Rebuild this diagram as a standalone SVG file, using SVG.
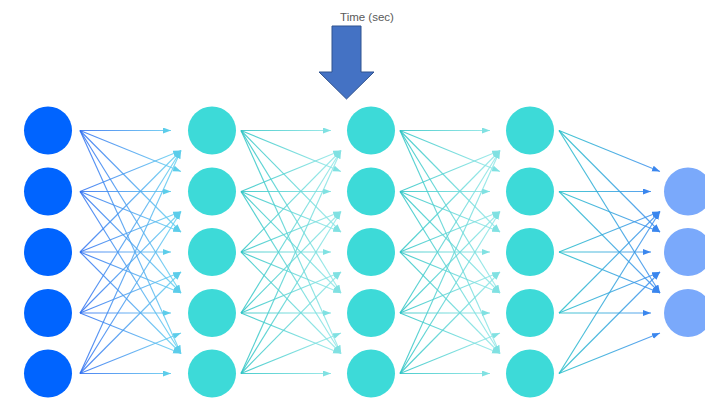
<svg xmlns="http://www.w3.org/2000/svg" width="705" height="404" viewBox="0 0 705 404">
<defs>
<style>
.c1{fill:#0064ff}
.c2{fill:#3ddad8}
.c3{fill:#7aa9fb}
.ln{stroke-width:1.15;fill:none;stroke-opacity:0.85}
.g1 line{stroke:url(#gr1);marker-end:url(#m1)}
.g2 line{stroke:url(#gr2);marker-end:url(#m2)}
.g3 line{stroke:url(#gr3);marker-end:url(#m2)}
.g4 line{stroke:url(#gr4);marker-end:url(#m4)}
.lbl{font-family:"Liberation Sans",Arial,sans-serif;font-size:11.5px;fill:#5a5a5a}
</style>
<linearGradient id="gr1" gradientUnits="userSpaceOnUse" x1="80" y1="0" x2="181" y2="0"><stop offset="0" stop-color="#2f6ff0"/><stop offset="1" stop-color="#6ad6f0"/></linearGradient>
<linearGradient id="gr2" gradientUnits="userSpaceOnUse" x1="241" y1="0" x2="341" y2="0"><stop offset="0" stop-color="#2cc4c4"/><stop offset="1" stop-color="#98e9e9"/></linearGradient>
<linearGradient id="gr3" gradientUnits="userSpaceOnUse" x1="400" y1="0" x2="500" y2="0"><stop offset="0" stop-color="#2cc4c4"/><stop offset="1" stop-color="#98e9e9"/></linearGradient>
<linearGradient id="gr4" gradientUnits="userSpaceOnUse" x1="559" y1="0" x2="660" y2="0"><stop offset="0" stop-color="#25bfc9"/><stop offset="1" stop-color="#3f8cf0"/></linearGradient>
<marker id="m1" markerUnits="userSpaceOnUse" markerWidth="9" markerHeight="7" refX="8" refY="3" orient="auto"><path d="M0,0 L8,3 L0,6 z" fill="#5ccdea"/></marker>
<marker id="m2" markerUnits="userSpaceOnUse" markerWidth="9" markerHeight="7" refX="8" refY="3" orient="auto"><path d="M0,0 L8,3 L0,6 z" fill="#80e1e2"/></marker>
<marker id="m4" markerUnits="userSpaceOnUse" markerWidth="9" markerHeight="7" refX="8" refY="3" orient="auto"><path d="M0,0 L8,3 L0,6 z" fill="#3a86ee"/></marker>
</defs>
<rect width="705" height="404" fill="#ffffff"/>
<g id="connectors">
<g class="ln g1">
<line x1="80" y1="130.5" x2="171" y2="130.5"/><line x1="80" y1="130.5" x2="181" y2="171.5"/><line x1="80" y1="130.5" x2="181" y2="232"/><line x1="80" y1="130.5" x2="181" y2="293"/><line x1="80" y1="130.5" x2="181" y2="353.5"/>
<line x1="80" y1="191.5" x2="181" y2="150.5"/><line x1="80" y1="191.5" x2="171" y2="191.5"/><line x1="80" y1="191.5" x2="181" y2="232"/><line x1="80" y1="191.5" x2="181" y2="293"/><line x1="80" y1="191.5" x2="181" y2="353.5"/>
<line x1="80" y1="252" x2="181" y2="150.5"/><line x1="80" y1="252" x2="181" y2="211.5"/><line x1="80" y1="252" x2="171" y2="252"/><line x1="80" y1="252" x2="181" y2="293"/><line x1="80" y1="252" x2="181" y2="353.5"/>
<line x1="80" y1="313" x2="181" y2="150.5"/><line x1="80" y1="313" x2="181" y2="211.5"/><line x1="80" y1="313" x2="181" y2="272"/><line x1="80" y1="313" x2="171" y2="313"/><line x1="80" y1="313" x2="181" y2="353.5"/>
<line x1="80" y1="373.5" x2="181" y2="150.5"/><line x1="80" y1="373.5" x2="181" y2="211.5"/><line x1="80" y1="373.5" x2="181" y2="272"/><line x1="80" y1="373.5" x2="181" y2="333"/><line x1="80" y1="373.5" x2="171" y2="373.5"/>
</g>
<g class="ln g2">
<line x1="241" y1="130.5" x2="331" y2="130.5"/><line x1="241" y1="130.5" x2="341" y2="171.5"/><line x1="241" y1="130.5" x2="341" y2="232"/><line x1="241" y1="130.5" x2="341" y2="293"/><line x1="241" y1="130.5" x2="341" y2="353.5"/>
<line x1="241" y1="191.5" x2="341" y2="150.5"/><line x1="241" y1="191.5" x2="331" y2="191.5"/><line x1="241" y1="191.5" x2="341" y2="232"/><line x1="241" y1="191.5" x2="341" y2="293"/><line x1="241" y1="191.5" x2="341" y2="353.5"/>
<line x1="241" y1="252" x2="341" y2="150.5"/><line x1="241" y1="252" x2="341" y2="211.5"/><line x1="241" y1="252" x2="331" y2="252"/><line x1="241" y1="252" x2="341" y2="293"/><line x1="241" y1="252" x2="341" y2="353.5"/>
<line x1="241" y1="313" x2="341" y2="150.5"/><line x1="241" y1="313" x2="341" y2="211.5"/><line x1="241" y1="313" x2="341" y2="272"/><line x1="241" y1="313" x2="331" y2="313"/><line x1="241" y1="313" x2="341" y2="353.5"/>
<line x1="241" y1="373.5" x2="341" y2="150.5"/><line x1="241" y1="373.5" x2="341" y2="211.5"/><line x1="241" y1="373.5" x2="341" y2="272"/><line x1="241" y1="373.5" x2="341" y2="333"/><line x1="241" y1="373.5" x2="331" y2="373.5"/>
</g>
<g class="ln g3">
<line x1="400" y1="130.5" x2="490" y2="130.5"/><line x1="400" y1="130.5" x2="500" y2="171.5"/><line x1="400" y1="130.5" x2="500" y2="232"/><line x1="400" y1="130.5" x2="500" y2="293"/><line x1="400" y1="130.5" x2="500" y2="353.5"/>
<line x1="400" y1="191.5" x2="500" y2="150.5"/><line x1="400" y1="191.5" x2="490" y2="191.5"/><line x1="400" y1="191.5" x2="500" y2="232"/><line x1="400" y1="191.5" x2="500" y2="293"/><line x1="400" y1="191.5" x2="500" y2="353.5"/>
<line x1="400" y1="252" x2="500" y2="150.5"/><line x1="400" y1="252" x2="500" y2="211.5"/><line x1="400" y1="252" x2="490" y2="252"/><line x1="400" y1="252" x2="500" y2="293"/><line x1="400" y1="252" x2="500" y2="353.5"/>
<line x1="400" y1="313" x2="500" y2="150.5"/><line x1="400" y1="313" x2="500" y2="211.5"/><line x1="400" y1="313" x2="500" y2="272"/><line x1="400" y1="313" x2="490" y2="313"/><line x1="400" y1="313" x2="500" y2="353.5"/>
<line x1="400" y1="373.5" x2="500" y2="150.5"/><line x1="400" y1="373.5" x2="500" y2="211.5"/><line x1="400" y1="373.5" x2="500" y2="272"/><line x1="400" y1="373.5" x2="500" y2="333"/><line x1="400" y1="373.5" x2="490" y2="373.5"/>
</g>
<g class="ln g4">
<line x1="559" y1="130.5" x2="660" y2="171.5"/><line x1="559" y1="130.5" x2="660" y2="232"/><line x1="559" y1="130.5" x2="660" y2="293"/>
<line x1="559" y1="191.5" x2="651" y2="191.5"/><line x1="559" y1="191.5" x2="660" y2="232"/><line x1="559" y1="191.5" x2="660" y2="293"/>
<line x1="559" y1="252" x2="660" y2="211.5"/><line x1="559" y1="252" x2="651" y2="252"/><line x1="559" y1="252" x2="660" y2="293"/>
<line x1="559" y1="313" x2="660" y2="211.5"/><line x1="559" y1="313" x2="660" y2="272"/><line x1="559" y1="313" x2="651" y2="313"/>
<line x1="559" y1="373.5" x2="660" y2="211.5"/><line x1="559" y1="373.5" x2="660" y2="272"/><line x1="559" y1="373.5" x2="660" y2="333"/>
</g>
</g>
<g id="input-layer">
<circle id="in1" class="c1" cx="48" cy="130.5" r="24"/>
<circle id="in2" class="c1" cx="48" cy="191.5" r="24"/>
<circle id="in3" class="c1" cx="48" cy="252" r="24"/>
<circle id="in4" class="c1" cx="48" cy="313" r="24"/>
<circle id="in5" class="c1" cx="48" cy="373.5" r="24"/>
</g>
<g id="hidden-layer-1">
<circle id="h1a" class="c2" cx="212" cy="130.5" r="24"/>
<circle id="h1b" class="c2" cx="212" cy="191.5" r="24"/>
<circle id="h1c" class="c2" cx="212" cy="252" r="24"/>
<circle id="h1d" class="c2" cx="212" cy="313" r="24"/>
<circle id="h1e" class="c2" cx="212" cy="373.5" r="24"/>
</g>
<g id="hidden-layer-2">
<circle id="h2a" class="c2" cx="371" cy="130.5" r="24"/>
<circle id="h2b" class="c2" cx="371" cy="191.5" r="24"/>
<circle id="h2c" class="c2" cx="371" cy="252" r="24"/>
<circle id="h2d" class="c2" cx="371" cy="313" r="24"/>
<circle id="h2e" class="c2" cx="371" cy="373.5" r="24"/>
</g>
<g id="hidden-layer-3">
<circle id="h3a" class="c2" cx="530" cy="130.5" r="24"/>
<circle id="h3b" class="c2" cx="530" cy="191.5" r="24"/>
<circle id="h3c" class="c2" cx="530" cy="252" r="24"/>
<circle id="h3d" class="c2" cx="530" cy="313" r="24"/>
<circle id="h3e" class="c2" cx="530" cy="373.5" r="24"/>
</g>
<g id="output-layer">
<circle id="out1" class="c3" cx="688" cy="191.5" r="24"/>
<circle id="out2" class="c3" cx="688" cy="252" r="24"/>
<circle id="out3" class="c3" cx="688" cy="313" r="24"/>
</g>
<g id="time-arrow">
<text class="lbl" x="367" y="21" text-anchor="middle">Time (sec)</text>
<path d="M332,26 L361,26 L361,72 L374,72 L346.5,99 L319,72 L332,72 Z" fill="#4472c4" stroke="#2f528f" stroke-width="1"/>
</g>
</svg>
